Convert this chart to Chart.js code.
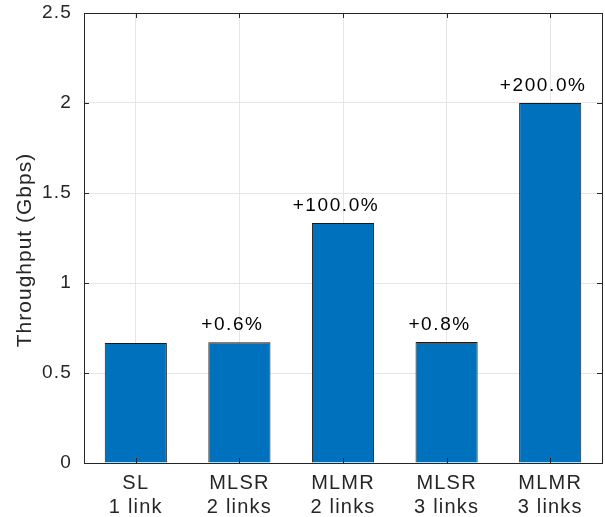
<!DOCTYPE html>
<html>
<head>
<meta charset="utf-8">
<script src="https://cdn.jsdelivr.net/npm/chart.js@4"></script>
<style>
  body { margin: 0; background: #fff; }
  #wrap { width: 605px; height: 517px; }
</style>
</head>
<body>
<div id="wrap"><canvas id="c" width="605" height="517"></canvas></div>
<script>
const categories = [["SL", "1 link"], ["MLSR", "2 links"], ["MLMR", "2 links"], ["MLSR", "3 links"], ["MLMR", "3 links"]];
const throughput = [0.666, 0.671, 1.333, 0.672, 2.0];
const gainLabels = ["", "+0.6%", "+100.0%", "+0.8%", "+200.0%"];
const yTicks = [0, 0.5, 1, 1.5, 2, 2.5];
const yTitle = "Throughput (Gbps)";

const textColor = "#262626";
const fontFamily = "'Liberation Sans', Arial, sans-serif";

// wider letter spacing like the matlab export
const spacingPlugin = {
  id: "spacing",
  beforeDraw(chart) { chart.ctx.letterSpacing = "1.2px"; }
};

// labels above bars, y title, matlab style box and inward ticks
const boxPlugin = {
  id: "box",
  afterDatasetsDraw(chart) {
    const ctx = chart.ctx;
    const area = chart.chartArea;
    const meta = chart.getDatasetMeta(0);
    ctx.save();
    ctx.letterSpacing = "1.6px";
    ctx.fillStyle = "#000";
    ctx.font = "19px " + fontFamily;
    ctx.textAlign = "center";
    ctx.textBaseline = "alphabetic";
    meta.data.forEach((bar, i) => {
      if (gainLabels[i]) ctx.fillText(gainLabels[i], bar.x - 7, bar.y - 12);
    });

    // y axis title
    ctx.save();
    ctx.letterSpacing = "1px";
    ctx.fillStyle = textColor;
    ctx.font = "21px " + fontFamily;
    ctx.translate(31, 250);
    ctx.rotate(-Math.PI / 2);
    ctx.fillText(yTitle, 0, 0);
    ctx.restore();

    ctx.strokeStyle = textColor;
    ctx.lineWidth = 1;
    const y = chart.scales.y;
    const x = chart.scales.x;
    ctx.beginPath();
    yTicks.forEach(v => {
      const py = Math.round(y.getPixelForValue(v)) + 0.5;
      ctx.moveTo(area.left, py); ctx.lineTo(area.left + 5, py);
      ctx.moveTo(area.right, py); ctx.lineTo(area.right - 5, py);
    });
    categories.forEach((c, i) => {
      const px = Math.round(x.getPixelForValue(i)) + 0.5;
      ctx.moveTo(px, area.bottom); ctx.lineTo(px, area.bottom - 5);
      ctx.moveTo(px, area.top); ctx.lineTo(px, area.top + 5);
    });
    ctx.stroke();
    ctx.strokeRect(Math.round(area.left) + 0.5, Math.round(area.top) + 0.5,
      Math.round(area.right - area.left), Math.round(area.bottom - area.top));
    ctx.restore();
  }
};

new Chart(document.getElementById("c"), {
  type: "bar",
  data: {
    labels: categories,
    datasets: [{
      data: throughput,
      backgroundColor: "#0072BD",
      borderColor: "#1a1a1a",
      borderWidth: 1,
      barPercentage: 0.6,
      categoryPercentage: 1.0
    }]
  },
  options: {
    responsive: false,
    animation: false,
    layout: { padding: { top: 13, right: 3, left: 0, bottom: 0 } },
    plugins: { legend: { display: false }, tooltip: { enabled: false } },
    scales: {
      x: {
        grid: { offset: false, color: "#e6e6e6", drawTicks: false },
        border: { display: false },
        ticks: { color: textColor, font: { size: 20, family: fontFamily, lineHeight: 1.175 }, padding: 9, maxRotation: 0 },
        afterFit(scale) { scale.height = 54; }
      },
      y: {
        min: 0,
        max: 2.5,
        afterBuildTicks(scale) { scale.ticks = yTicks.map(v => ({ value: v })); },
        grid: { color: "#e6e6e6", drawTicks: false },
        border: { display: false },
        ticks: { color: textColor, font: { size: 19, family: fontFamily }, padding: 12, callback: v => String(v) },
        afterFit(scale) {
          scale.width = 84;
          scale.paddingTop = 0;
          scale.paddingBottom = 0;
        }
      }
    }
  },
  plugins: [spacingPlugin, boxPlugin]
});
</script>
</body>
</html>
